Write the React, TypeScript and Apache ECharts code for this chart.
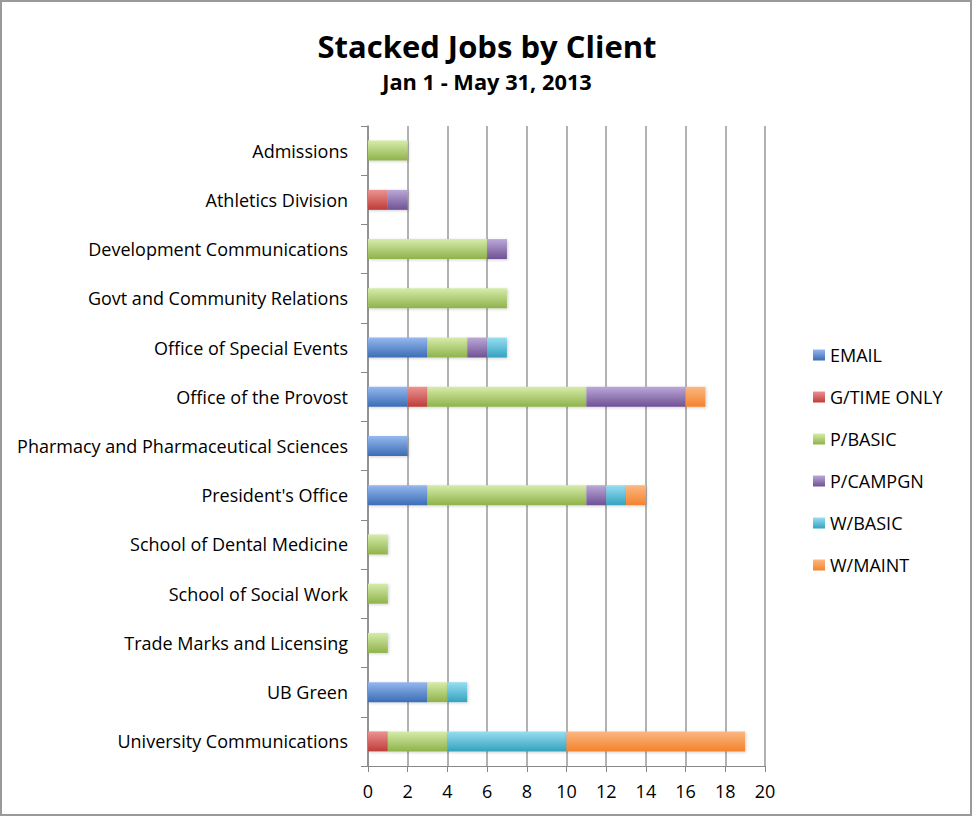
import React, { useEffect, useRef } from "react";
import * as echarts from "echarts";

const categories = [
  "Admissions",
  "Athletics Division",
  "Development Communications",
  "Govt and Community Relations",
  "Office of Special Events",
  "Office of the Provost",
  "Pharmacy and Pharmaceutical Sciences",
  "President's Office",
  "School of Dental Medicine",
  "School of Social Work",
  "Trade Marks and Licensing",
  "UB Green",
  "University Communications",
];

const seriesNames = ["EMAIL", "G/TIME ONLY", "P/BASIC", "P/CAMPGN", "W/BASIC", "W/MAINT"];

const email = [0, 0, 0, 0, 3, 2, 2, 3, 0, 0, 0, 3, 0];
const gTimeOnly = [0, 1, 0, 0, 0, 1, 0, 0, 0, 0, 0, 0, 1];
const pBasic = [2, 0, 6, 7, 2, 8, 0, 8, 1, 1, 1, 1, 3];
const pCampgn = [0, 1, 1, 0, 1, 5, 0, 1, 0, 0, 0, 0, 0];
const wBasic = [0, 0, 0, 0, 1, 0, 0, 1, 0, 0, 0, 1, 6];
const wMaint = [0, 0, 0, 0, 0, 1, 0, 1, 0, 0, 0, 0, 9];

const seriesData = [email, gTimeOnly, pBasic, pCampgn, wBasic, wMaint];

const xTicks = [0, 2, 4, 6, 8, 10, 12, 14, 16, 18, 20];

const colorStops: [string, string][] = [
  ["#95b8ee", "#3b6db5"],
  ["#ec9391", "#bd3d39"],
  ["#d6ecaa", "#8fb24a"],
  ["#bba8d8", "#6f5193"],
  ["#97def2", "#35a2be"],
  ["#fcb783", "#f3832c"],
];

const FONT = "Open Sans";

export default function App() {
  const ref = useRef<HTMLDivElement>(null);
  useEffect(() => {
    if (!ref.current) return;
    const chart = echarts.init(ref.current, null, { renderer: "svg" });
    const grad = (i: number) =>
      new echarts.graphic.LinearGradient(0, 0, 0, 1, [
        { offset: 0, color: colorStops[i][0] },
        { offset: 1, color: colorStops[i][1] },
      ]);
    chart.setOption({
      animation: false,
      backgroundColor: "#ffffff",
      title: {
        text: "Stacked Jobs by Client",
        subtext: "Jan 1 - May 31, 2013",
        left: "center",
        top: 25,
        itemGap: 9,
        textStyle: { fontFamily: FONT, fontWeight: "bold", fontSize: 31, color: "#000" },
        subtextStyle: { fontFamily: FONT, fontWeight: "bold", fontSize: 21.8, color: "#000" },
      },
      graphic: [
        {
          type: "rect",
          shape: { x: 1, y: 1, width: 970, height: 814 },
          style: { fill: "none", stroke: "#9a9a9a", lineWidth: 2 },
          silent: true,
        },
      ],
      legend: {
        orient: "vertical",
        left: 813,
        top: 345,
        padding: 0,
        itemWidth: 12,
        itemHeight: 11,
        itemGap: 22,
        icon: "rect",
        textStyle: { fontFamily: FONT, fontSize: 18, color: "#000", lineHeight: 20 },
        data: seriesNames,
      },
      grid: { left: 368, right: 209, top: 126, bottom: 53, containLabel: false },
      xAxis: {
        type: "value",
        min: 0,
        max: 20,
        interval: 2,
        axisLine: { show: true, lineStyle: { color: "#888", width: 1 } },
        axisTick: { show: true, length: 6, lineStyle: { color: "#888" } },
        splitLine: { show: true, lineStyle: { color: "#999", width: 1.5 } },
        axisLabel: {
          fontFamily: FONT,
          fontSize: 18,
          color: "#000",
          margin: 16,
          formatter: (v: number) => (xTicks.includes(v) ? String(v) : ""),
        },
      },
      yAxis: {
        type: "category",
        data: categories,
        inverse: true,
        axisLine: { show: true, lineStyle: { color: "#888", width: 1.5 } },
        axisTick: { show: true, length: 7, lineStyle: { color: "#888" } },
        axisLabel: { fontFamily: FONT, fontSize: 18, color: "#000", margin: 20 },
      },
      series: seriesNames.map((name, i) => ({
        name,
        type: "bar",
        stack: "total",
        barWidth: 20,
        data: seriesData[i].map((v) => (v === 0 ? null : v)),
        itemStyle: {
          color: grad(i),
          shadowColor: "rgba(0,0,0,0.18)",
          shadowBlur: 3,
          shadowOffsetX: 1,
          shadowOffsetY: 1,
        },
      })),
    });
    return () => chart.dispose();
  }, []);
  return (
    <div
      ref={ref}
      style={{ position: "fixed", left: 0, top: 0, width: 974, height: 819, background: "#fff" }}
    />
  );
}
